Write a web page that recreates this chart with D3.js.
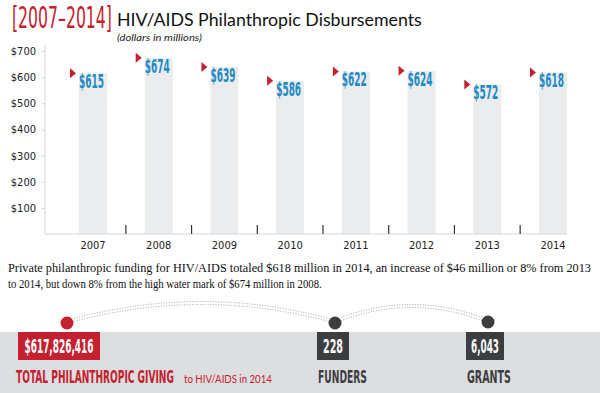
<!DOCTYPE html>
<html>
<head>
<meta charset="utf-8">
<script src="https://cdn.jsdelivr.net/npm/d3@7"></script>
<style>
  body { margin: 0; background: #fff; }
  svg { display: block; }
</style>
</head>
<body>
<svg id="chart" width="600" height="393"></svg>
<script>
// Chart data
var years = ["2007", "2008", "2009", "2010", "2011", "2012", "2013", "2014"];
var disbursements = [615, 674, 639, 586, 622, 624, 572, 618];
var yTickValues = [100, 200, 300, 400, 500, 600, 700];

// Bottom summary figures
var statValues = ["$617,826,416", "228", "6,043"];
var statLabels = ["TOTAL PHILANTHROPIC GIVING", "FUNDERS", "GRANTS"];

var RED = "#c4202f";
var BLUE = "#1f8ac4";
var BAR_GREY = "#ebecee";
var BAND_GREY = "#dddee0";
var DARK = "#3c3d3f";
var NARROW = "'Liberation Sans Narrow', 'DejaVu Sans Condensed', sans-serif";
var SANS = "Lato, 'Noto Sans', sans-serif";

var svg = d3.select("#chart");

// squeeze a text horizontally so it spans `width` px (keeps real glyph box)
function fit(sel, x, y, width) {
  var w = sel.node().getComputedTextLength();
  sel.attr("x", 0).attr("y", 0)
    .attr("transform", "translate(" + x + "," + y + ") scale(" + (width / w) + ",1)");
  return sel;
}

// ##### Title #####
fit(svg.append("text")
  .attr("font-family", NARROW)
  .attr("font-size", 30)
  .attr("fill", RED)
  .text("[2007–2014]"), 12, 28, 100);

fit(svg.append("text")
  .attr("font-family", SANS)
  .attr("font-size", 17)
  .attr("fill", "#111")
  .text("HIV/AIDS Philanthropic Disbursements"), 117, 26, 305);

fit(svg.append("text")
  .attr("font-family", SANS)
  .attr("font-style", "italic")
  .attr("font-size", 10)
  .attr("fill", "#222")
  .text("(dollars in millions)"), 117, 41, 85);

// ##### Scales #####
var xScale = d3.scaleBand()
  .domain(years)
  .range([79, 567])
  .paddingInner(0.574)
  .paddingOuter(0);

var yScale = d3.scaleLinear()
  .domain([0, 700])
  .range([234, 51]);

// ##### Axes #####
var yAxis = d3.axisLeft(yScale)
  .tickValues(yTickValues)
  .tickSize(3)
  .tickPadding(6)
  .tickFormat(function (d) { return "$" + d; });

var yG = svg.append("g")
  .attr("transform", "translate(45,0)")
  .call(yAxis);
yG.select(".domain").remove();
yG.selectAll(".tick line").attr("stroke", "#cfcfcf");
yG.selectAll(".tick text")
  .attr("font-family", NARROW)
  .attr("font-size", 11)
  .attr("fill", "#222");

// axis lines
svg.append("line")
  .attr("x1", 45).attr("x2", 45)
  .attr("y1", 45).attr("y2", yScale(0))
  .attr("stroke", "#d6d6d6");

// ##### Bars #####
svg.append("g").selectAll("rect")
  .data(disbursements)
  .enter()
  .append("rect")
  .attr("x", function (d, i) { return xScale(years[i]); })
  .attr("y", function (d) { return yScale(d); })
  .attr("width", xScale.bandwidth())
  .attr("height", function (d) { return yScale(0) - yScale(d); })
  .attr("fill", BAR_GREY);

svg.append("line")
  .attr("x1", 45).attr("x2", xScale(years[years.length - 1]) + xScale.bandwidth())
  .attr("y1", yScale(0)).attr("y2", yScale(0))
  .attr("stroke", "#d6d6d6");

// dark separators between years
var gap = xScale.step() - xScale.bandwidth();
svg.append("g").selectAll("line")
  .data(years.slice(0, -1))
  .enter()
  .append("line")
  .attr("x1", function (d) { return xScale(d) + xScale.bandwidth() + gap / 2; })
  .attr("x2", function (d) { return xScale(d) + xScale.bandwidth() + gap / 2; })
  .attr("y1", yScale(0) - 9)
  .attr("y2", yScale(0))
  .attr("stroke", "#333")
  .attr("stroke-width", 1.2);

// year labels
svg.append("g").selectAll("text")
  .data(years)
  .enter()
  .append("text")
  .attr("x", function (d) { return xScale(d) + xScale.bandwidth() / 2; })
  .attr("y", 249)
  .attr("text-anchor", "middle")
  .attr("font-family", NARROW)
  .attr("font-size", 11)
  .attr("fill", "#222")
  .text(function (d) { return d; });

// red markers
svg.append("g").selectAll("path")
  .data(disbursements)
  .enter()
  .append("path")
  .attr("d", function (d, i) {
    var x = xScale(years[i]) - 9, y = yScale(d);
    return "M" + x + "," + (y - 5) + "L" + (x + 6) + "," + y + "L" + x + "," + (y + 5) + "Z";
  })
  .attr("fill", RED);

// value labels
var valueLabels = svg.append("g").selectAll("text")
  .data(disbursements)
  .enter()
  .append("text")
  .attr("font-family", NARROW)
  .attr("font-weight", "bold")
  .attr("font-size", 19)
  .attr("fill", BLUE)
  .text(function (d) { return "$" + d; });
valueLabels.each(function (d, i) {
  fit(d3.select(this), xScale(years[i]), yScale(d) + 15, 25);
});

// ##### Summary paragraph #####
var para = svg.append("g")
  .attr("font-family", "'Liberation Serif', 'DejaVu Serif', serif")
  .attr("font-size", 12)
  .attr("fill", "#111");
fit(para.append("text")
  .text("Private philanthropic funding for HIV/AIDS totaled $618 million in 2014, an increase of $46 million or 8% from 2013"),
  8, 272, 584);
fit(para.append("text")
  .text("to 2014, but down 8% from the high water mark of $674 million in 2008."),
  8, 288, 314);

// ##### Bottom band #####
svg.append("rect")
  .attr("x", 0).attr("y", 332)
  .attr("width", 600).attr("height", 61)
  .attr("fill", BAND_GREY);

// dotted connecting arcs (double lines)
function arc(x0, x1, y0, peak, off) {
  var p = d3.path();
  p.moveTo(x0, y0 + off);
  p.quadraticCurveTo((x0 + x1) / 2, peak + off, x1, y0 + off);
  return p.toString();
}
var arcs = [[74, 329, 320, 286], [341, 482, 319, 293]];
arcs.forEach(function (a) {
  [-1.5, 1.5].forEach(function (off) {
    svg.append("path")
      .attr("d", arc(a[0], a[1], a[2], a[3], off))
      .attr("fill", "none")
      .attr("stroke", "#a0a0a0")
      .attr("stroke-width", 1)
      .attr("stroke-dasharray", "1,1.6");
  });
});

var dots = [[67, 323, RED], [335, 323, DARK], [488, 322, DARK]];
dots.forEach(function (d) {
  svg.append("circle").attr("cx", d[0]).attr("cy", d[1]).attr("r", 6.5).attr("fill", d[2]);
});

// value boxes
var boxes = [
  { x: 18, w: 82, fill: RED, tl: 69, lx: 16, lw: 158, lc: RED },
  { x: 317, w: 32, fill: DARK, tl: 20, lx: 318, lw: 49, lc: DARK },
  { x: 466, w: 38, fill: DARK, tl: 28, lx: 467, lw: 44, lc: DARK }
];
boxes.forEach(function (b, i) {
  svg.append("rect")
    .attr("x", b.x).attr("y", 332)
    .attr("width", b.w).attr("height", 28)
    .attr("fill", b.fill);
  fit(svg.append("text")
    .attr("font-family", NARROW)
    .attr("font-weight", "bold")
    .attr("font-size", 19)
    .attr("fill", "#fff")
    .text(statValues[i]), b.x + (b.w - b.tl) / 2, 353, b.tl);
  fit(svg.append("text")
    .attr("font-family", NARROW)
    .attr("font-weight", "bold")
    .attr("font-size", 18)
    .attr("fill", b.lc)
    .text(statLabels[i]), b.lx, 383, b.lw);
});

fit(svg.append("text")
  .attr("font-family", SANS)
  .attr("font-size", 11)
  .attr("fill", RED)
  .text("to HIV/AIDS in 2014"), 184, 383, 88);
</script>
</body>
</html>
